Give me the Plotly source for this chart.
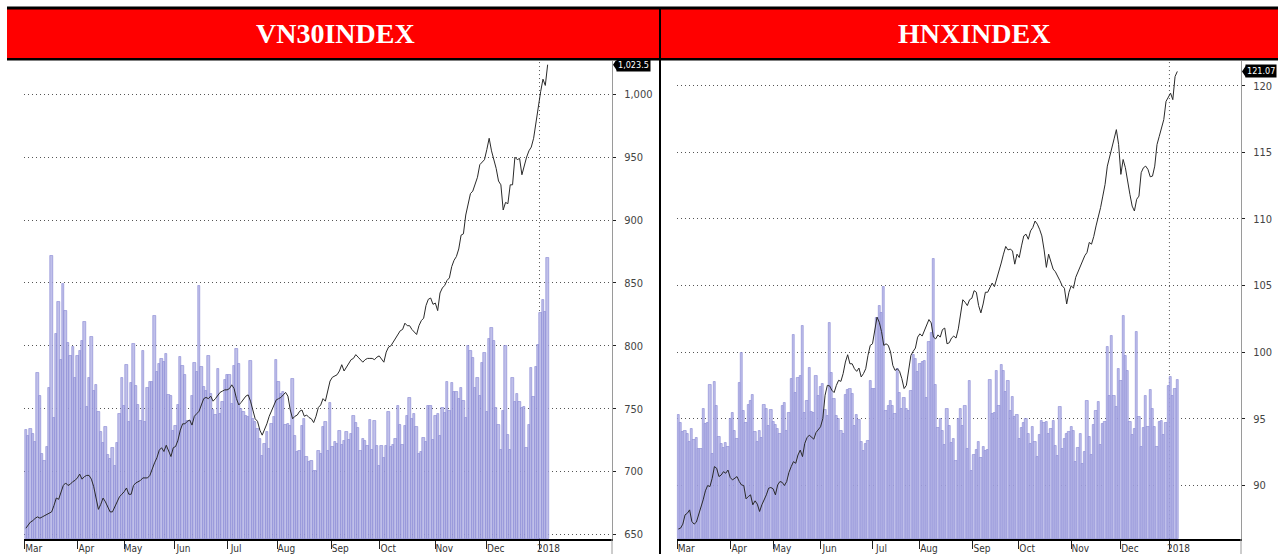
import plotly.graph_objects as go

# ---------------- data ----------------
month_labels = ["Mar", "Apr", "May", "Jun", "Jul", "Aug", "Sep", "Oct", "Nov", "Dec", "2018"]
vn30_month_pos = [-0.5, 22, 42, 63.5, 86, 107.5, 130.5, 151, 175, 197, 219.5]
hnx_month_pos = [-0.5, 23, 42, 63, 86, 107, 130.5, 150.5, 174, 196, 217.5]

vn30_yticks = [650, 700, 750, 800, 850, 900, 950, 1000]
hnx_yticks = [90, 95, 100, 105, 110, 115, 120]

vn30_close = [
    655, 658, 660, 661, 663, 664, 663, 664, 665, 666,
    667, 668, 673, 679, 678, 683, 689, 691, 689, 690,
    692, 693, 695, 698, 694, 696, 697, 697, 694, 688,
    679, 670, 674, 679, 676, 672, 668, 668, 672, 677,
    680, 682, 684, 687, 682, 682, 689, 691, 692, 693,
    695, 695, 695, 697, 703, 707, 711, 717, 719, 716,
    721, 716, 712, 719, 720, 725, 733, 738, 738, 740,
    741, 737, 744, 746, 748, 753, 758, 759, 758, 760,
    756, 758, 761, 763, 764, 765, 765, 766, 769, 766,
    758, 753, 755, 758, 760, 761, 756, 749, 742, 740,
    733, 729, 733, 738, 744, 748, 753, 757, 758, 759,
    761, 763, 760, 749, 742, 744, 745, 748, 749, 744,
    745, 743, 742, 739, 744, 751, 753, 758, 756, 765,
    772, 775, 776, 777, 780, 785, 780, 783, 786, 789,
    790, 793, 791, 789, 787, 789, 790, 790, 790, 789,
    791, 792, 789, 787, 795, 799, 800, 803, 806, 810,
    812, 813, 818, 816, 816, 813, 811, 809, 816, 820,
    822, 832, 837, 838, 833, 834, 828, 842, 846, 848,
    852, 854, 863, 868, 871, 877, 888, 889, 904, 912,
    921, 923, 928, 934, 944, 946, 948, 956, 965, 955,
    949, 941, 931, 928, 908, 914, 913, 928, 928, 950,
    948, 949, 936, 944, 950, 955, 958, 965, 978, 987,
    1002, 1012, 1007, 1023.5,
]

vn30_volume = [
    110, 104, 111, 106, 98, 167, 144, 86, 79, 93,
    152, 284, 122, 206, 238, 180, 256, 229, 197, 184,
    193, 162, 184, 189, 199, 218, 133, 162, 203, 149,
    155, 128, 108, 97, 113, 85, 81, 92, 74, 97,
    126, 162, 134, 175, 118, 157, 196, 154, 135, 119,
    189, 118, 152, 158, 158, 224, 168, 176, 181, 178,
    186, 145, 144, 109, 114, 135, 183, 174, 165, 119,
    119, 144, 177, 168, 254, 173, 153, 149, 184, 146,
    130, 125, 171, 126, 138, 160, 165, 165, 136, 174,
    191, 176, 131, 128, 124, 123, 179, 121, 118, 111,
    101, 84, 96, 108, 91, 116, 123, 180, 158, 146,
    148, 115, 116, 114, 161, 104, 88, 89, 114, 121,
    83, 78, 79, 69, 69, 89,
    86, 113, 118, 89, 137, 93, 98, 96, 109, 95,
    99, 108, 100, 106, 124, 117, 112, 89, 101, 99,
    94, 120, 90, 119, 94, 74, 94, 82, 94, 128,
    93, 95, 101, 134, 115, 95, 114, 124, 142, 121,
    126, 113, 86, 88, 102, 98, 134, 134, 100, 124,
    126, 104, 132, 127, 158, 129, 157, 148, 148, 141,
    152, 139, 122, 194, 189, 182, 152, 162, 144, 177,
    187, 128, 201, 212, 199, 132, 115, 90, 129, 194,
    105, 90, 162, 138, 146, 138, 132, 133, 92, 115,
    172, 143, 173, 195, 227, 240, 228, 282,
]

hnx_close = [
    86.71, 86.78, 87.08, 87.78, 87.90, 88.15, 87.28, 87.08, 87.23, 87.78,
    88.28, 88.90, 89.58, 89.98, 89.90, 90.52, 91.40, 91.27, 90.65, 90.77,
    91.02, 90.90, 91.14, 90.58, 90.40, 90.52, 90.65, 90.28, 90.02, 89.98,
    88.98, 89.15, 89.28, 88.53, 88.83, 88.58, 88.03, 88.53, 88.90, 89.28,
    89.78, 89.83, 89.73, 89.28, 90.02, 90.28, 90.22, 89.98, 90.28, 90.97,
    91.40, 91.77, 91.65, 92.27, 92.64, 92.15, 93.14, 93.57, 93.76, 93.57,
    93.46, 93.96, 94.14, 94.39, 95.01, 96.76, 97.50, 97.46, 97.13, 96.96,
    97.50, 97.88, 97.80, 98.38, 99.25, 99.80, 99.12, 99.12, 98.75, 98.55,
    98.80, 98.13, 98.38, 98.75, 99.75, 100.50, 100.62, 101.62, 102.62, 102.24,
    101.54, 100.50, 100.62, 100.50, 100.00, 99.00, 98.62, 98.75, 98.55, 98.00,
    97.26, 97.50, 98.75, 99.75, 100.05, 100.30, 101.12, 101.37, 101.20, 101.62,
    102.12, 102.44, 102.19, 101.12, 100.99, 101.29, 101.12, 101.69, 101.80, 100.62,
    100.70, 101.05, 101.20, 101.05, 101.74, 102.99, 103.93, 103.74, 103.49, 103.93,
    104.04, 104.61, 104.49, 103.49, 102.94, 103.61, 104.49, 104.49, 104.79, 105.18,
    104.91, 105.48, 105.98, 106.68, 107.35, 107.93, 107.67, 107.73, 107.60, 106.60,
    107.35, 107.10, 107.97, 108.72, 108.85, 108.47, 109.10, 109.35, 109.84, 109.60,
    109.22, 108.72, 107.67, 106.36, 107.35, 106.85, 106.23, 106.03, 105.73, 105.36,
    104.98, 104.79, 103.61, 104.49, 104.98, 104.79, 105.61, 106.03, 106.48, 106.85,
    107.23, 107.48, 108.23, 108.10, 108.68, 109.47, 110.10, 110.84, 111.71, 112.59,
    113.96, 114.58, 115.21, 116.01, 116.70, 115.58, 113.34, 114.46, 113.84, 112.71,
    111.84, 110.96, 110.59, 111.47, 111.71, 113.47, 113.84, 113.96, 113.71, 113.16,
    113.21, 113.96, 115.58, 116.20, 116.83, 117.45, 118.82, 119.19, 119.44, 118.95,
    120.69, 121.07,
]

hnx_volume = [
    125, 117, 108, 109, 106, 98, 111, 100, 102, 91,
    91, 131, 116, 117, 155, 86, 158, 134, 103, 96,
    92, 97, 93, 121, 127, 109, 101, 157, 187, 129,
    117, 135, 139, 145, 108, 98, 109, 102, 135, 131,
    114, 130, 118, 115, 111, 106, 134, 137, 109, 127,
    161, 205, 147, 162, 164, 214, 127, 139, 172, 128,
    127, 164, 144, 153, 156, 130, 124, 217, 167, 141,
    124, 121, 109, 106, 145, 150, 151, 146, 114, 125,
    120, 98, 89, 96, 99, 159, 151, 151, 222, 234,
    227, 253, 129, 134, 139, 134, 126, 171, 147, 131,
    142, 131, 129, 149, 185, 181, 168, 176, 178, 179,
    142, 198, 207, 281, 155, 112, 121, 109, 95, 131,
    114, 97, 101, 79, 121, 131, 114, 134, 91, 159,
    69, 85, 90, 98, 82, 93, 89, 90, 160, 126,
    127, 169, 134, 175, 169, 148, 159, 129, 143, 123,
    125, 101, 112, 117, 121, 106, 96, 113, 98, 83,
    105, 119, 117, 118, 106, 111, 119, 94, 84, 133,
    91, 101, 106, 108, 113, 109, 78, 92, 106, 76,
    88, 139, 103, 85, 115, 129, 138, 95, 116, 118,
    193, 144, 204, 144, 133, 171, 159, 224, 184, 169,
    118, 105, 111, 208, 123, 93, 112, 144, 113, 150,
    131, 113, 93, 118, 119, 105, 117, 154, 163, 144,
    151, 160,
]

# ---------------- layout helpers ----------------
W, H = 1278, 556


def px(x):
    return x / W


def py(y):
    return 1 - y / H


NARROW = "Liberation Sans Narrow, DejaVu Sans Condensed, Arial Narrow, sans-serif"
BAR_FILL = "#c0c0ea"
BAR_EDGE = "#7474cc"
LINE_COL = "#2a2a2a"
GRID_DASH = "1px,3px"

fig = go.Figure()

# VN30 panel
fig.add_trace(go.Bar(x=list(range(len(vn30_volume))), y=vn30_volume, xaxis="x", yaxis="y",
                     marker=dict(color=BAR_FILL, line=dict(color=BAR_EDGE, width=0.5)),
                     showlegend=False, hoverinfo="skip"))
fig.add_trace(go.Scatter(x=list(range(len(vn30_close))), y=vn30_close, xaxis="x", yaxis="y2",
                         mode="lines", line=dict(color=LINE_COL, width=1),
                         showlegend=False))
# HNX panel
fig.add_trace(go.Bar(x=list(range(len(hnx_volume))), y=hnx_volume, xaxis="x2", yaxis="y3",
                     marker=dict(color=BAR_FILL, line=dict(color=BAR_EDGE, width=0.5)),
                     showlegend=False, hoverinfo="skip"))
fig.add_trace(go.Scatter(x=list(range(len(hnx_close))), y=hnx_close, xaxis="x2", yaxis="y4",
                         mode="lines", line=dict(color=LINE_COL, width=1),
                         showlegend=False))

plot_top, plot_bot = 61, 541
ydom = [py(plot_bot), py(plot_top)]

xcommon = dict(showgrid=False, zeroline=False, showline=True, linecolor="#000", linewidth=1.5,
               ticks="outside", ticklen=8, tickcolor="#222", tickwidth=1,
               tickfont=dict(family=NARROW, size=10, color="#333"),
               ticklabelshift=9, ticklabelstandoff=-9, fixedrange=True)
ycommon = dict(side="right", showgrid=True, gridcolor="#555", griddash=GRID_DASH, gridwidth=1,
               zeroline=False, showline=True, linecolor="#9a9a9a", linewidth=1,
               ticks="outside", ticklen=3, tickcolor="#222",
               tickfont=dict(family=NARROW, size=11, color="#444"),
               ticklabelstandoff=6, fixedrange=True)
hidden_y = dict(visible=False, range=[0, plot_bot - plot_top], fixedrange=True)

fig.update_layout(
    width=W, height=H,
    margin=dict(l=0, r=0, t=0, b=0),
    paper_bgcolor="white", plot_bgcolor="rgba(0,0,0,0)",
    bargap=0, showlegend=False, hovermode=False,
    xaxis=dict(domain=[px(24), px(612)], range=[-0.8, 250.5], anchor="y",
               tickvals=vn30_month_pos, ticktext=month_labels, **xcommon),
    yaxis=dict(domain=ydom, anchor="x", **hidden_y),
    yaxis2=dict(overlaying="y", anchor="x", range=[646.4, 1026.6],
                tickvals=vn30_yticks, tickformat=",", **ycommon),
    xaxis2=dict(domain=[px(676.5), px(1241)], range=[-0.8, 249.2], anchor="y3",
                tickvals=hnx_month_pos, ticktext=month_labels, **xcommon),
    yaxis3=dict(domain=ydom, anchor="x2", **hidden_y),
    yaxis4=dict(overlaying="y3", anchor="x2", range=[85.96, 121.87],
                tickvals=hnx_yticks, **ycommon),
)

shapes = [
    # red header band
    dict(type="rect", xref="paper", yref="paper", x0=px(7), x1=1, y0=py(59), y1=py(9),
         fillcolor="#ff0000", line=dict(width=0), layer="above"),
    dict(type="line", xref="paper", yref="paper", x0=px(7), x1=1, y0=py(8), y1=py(8),
         line=dict(color="#000", width=3), layer="above"),
    dict(type="line", xref="paper", yref="paper", x0=px(7), x1=1, y0=py(59.5), y1=py(59.5),
         line=dict(color="#000", width=2.5), layer="above"),
    # panel separator
    dict(type="line", xref="paper", yref="paper", x0=px(660), x1=px(660), y0=0, y1=py(7),
         line=dict(color="#000", width=2), layer="above"),
    # price-axis lines continue below the time axis
    dict(type="line", xref="x domain", yref="paper", x0=1, x1=1, y0=0, y1=py(plot_bot),
         line=dict(color="#9a9a9a", width=1), layer="above"),
    dict(type="line", xref="x2 domain", yref="paper", x0=1, x1=1, y0=0, y1=py(plot_bot),
         line=dict(color="#9a9a9a", width=1), layer="above"),
    # year-boundary dotted verticals
    dict(type="line", xref="x", yref="y domain", x0=vn30_month_pos[-1], x1=vn30_month_pos[-1],
         y0=0, y1=1, line=dict(color="#555", width=1, dash=GRID_DASH), layer="below"),
    dict(type="line", xref="x2", yref="y3 domain", x0=hnx_month_pos[-1], x1=hnx_month_pos[-1],
         y0=0, y1=1, line=dict(color="#555", width=1, dash=GRID_DASH), layer="below"),
    # last-value pointers
    dict(type="path", xref="x domain", xsizemode="pixel", xanchor=1, yref="y2",
         ysizemode="pixel", yanchor=vn30_close[-1], path="M1,0 L5,6 L5,-6 Z",
         fillcolor="#000", line=dict(width=0), layer="above"),
    dict(type="path", xref="x2 domain", xsizemode="pixel", xanchor=1, yref="y4",
         ysizemode="pixel", yanchor=hnx_close[-1], path="M1,0 L5,6 L5,-6 Z",
         fillcolor="#000", line=dict(width=0), layer="above"),
]
fig.update_layout(shapes=shapes)

TITLE_FONT = dict(family="Liberation Serif, Times New Roman, serif", size=28, color="white")
annotations = [
    dict(text="<b>VN30INDEX</b>", xref="paper", yref="paper", x=px(335), y=py(34),
         xanchor="center", yanchor="middle", showarrow=False, font=TITLE_FONT),
    dict(text="<b>HNXINDEX</b>", xref="paper", yref="paper", x=px(974), y=py(34),
         xanchor="center", yanchor="middle", showarrow=False, font=TITLE_FONT),
    dict(text=f"{vn30_close[-1]:,.1f}", xref="x domain", yref="y2", x=1, y=vn30_close[-1],
         xanchor="left", yanchor="middle", xshift=4, showarrow=False, bgcolor="#000",
         borderpad=1, font=dict(family=NARROW, size=9, color="white")),
    dict(text=f"{hnx_close[-1]:.2f}", xref="x2 domain", yref="y4", x=1, y=hnx_close[-1],
         xanchor="left", yanchor="middle", xshift=4, showarrow=False, bgcolor="#000",
         borderpad=1, font=dict(family=NARROW, size=9, color="white")),
]
fig.update_layout(annotations=annotations)

fig.write_html(
    "out.html",
    config={"displayModeBar": False},
    post_script="document.body.style.margin='0';document.body.style.padding='0';"
                "document.body.style.overflow='hidden';",
)
